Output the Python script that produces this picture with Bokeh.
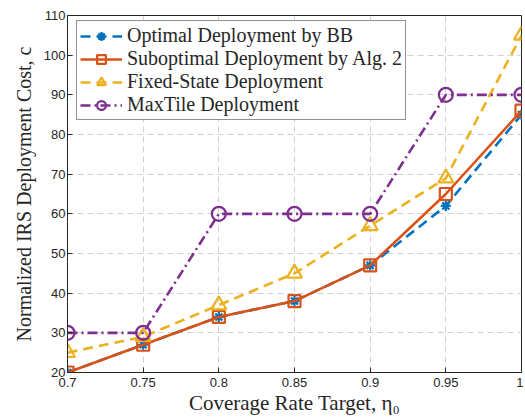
from bokeh.plotting import figure
from bokeh.models import FixedTicker, Range1d, Legend, LegendItem
from bokeh.embed import file_html
from bokeh.resources import INLINE

eta = [0.7, 0.75, 0.8, 0.85, 0.9, 0.95, 1.0]
bb = [20, 27, 34, 38, 47, 62, 85]
alg2 = [20, 27, 34, 38, 47, 65, 86]
fixed = [25, 29, 37, 45, 57, 69, 105]
maxtile = [30, 30, 60, 60, 60, 90, 90]

x_ticks = [0.7, 0.75, 0.8, 0.85, 0.9, 0.95, 1.0]
x_labels = ["0.7", "0.75", "0.8", "0.85", "0.9", "0.95", "1"]
y_ticks = [20, 30, 40, 50, 60, 70, 80, 90, 100, 110]

names = ["Optimal Deployment by BB", "Suboptimal Deployment by Alg. 2",
         "Fixed-State Deployment", "MaxTile Deployment"]
colors = ["#0072BD", "#D95319", "#EDB120", "#7E2F8E"]

p = figure(width=523, height=418, output_backend="svg", toolbar_location=None,
           x_range=Range1d(0.7, 1.0), y_range=Range1d(20, 110),
           min_border_left=67, min_border_right=2, min_border_top=15, min_border_bottom=46)
p.outline_line_color = "#262626"
p.outline_line_width = 1
p.background_fill_color = "white"

for ax in (p.xaxis, p.yaxis):
    ax.major_tick_in = 5
    ax.major_tick_out = 0
    ax.minor_tick_line_color = None
    ax.axis_line_color = "#262626"
    ax.major_tick_line_color = "#262626"
    ax.major_label_text_font = "Liberation Sans"
    ax.major_label_text_font_size = "13px"
    ax.major_label_text_color = "#262626"
    ax.axis_label_text_font = "Liberation Serif"
    ax.axis_label_text_font_style = "normal"
    ax.axis_label_text_color = "#262626"

p.xaxis.axis_label_text_font_size = "21px"
p.yaxis.axis_label_text_font_size = "20px"
p.xaxis.ticker = FixedTicker(ticks=x_ticks)
p.xaxis.major_label_overrides = {t: l for t, l in zip(x_ticks, x_labels)}
p.yaxis.ticker = FixedTicker(ticks=y_ticks)
p.xaxis.axis_label = "Coverage Rate Target, η₀"
p.yaxis.axis_label = "Normalized IRS Deployment Cost, c"
p.xaxis.axis_label_standoff = 1
p.yaxis.axis_label_standoff = 6
p.xaxis.major_label_standoff = 5
p.yaxis.major_label_standoff = 2

p.xgrid.grid_line_dash = "6 4"
p.ygrid.grid_line_dash = "6 4"
p.xgrid.grid_line_color = "#d0d0d0"
p.ygrid.grid_line_color = "#d0d0d0"
p.xgrid.grid_line_width = 1
p.ygrid.grid_line_width = 1

series = [bb, alg2, fixed, maxtile]
dashes = ["10 6", "solid", "10 6", "10 4 2 4"]
markers = ["asterisk", "square", "triangle", "circle"]
sizes = [10, 12, 15, 14]
items = []
for ys, name, c, dd, m, s in zip(series, names, colors, dashes, markers, sizes):
    r1 = p.line(eta, ys, line_color=c, line_width=2.6, line_dash=dd)
    r2 = p.scatter(eta, ys, marker=m, size=s, line_color=c, line_width=2.2,
                   fill_color=None)
    items.append(LegendItem(label=name, renderers=[r1, r2]))

legend = Legend(items=items, location=(9, 252))
legend.label_text_font = "Liberation Serif"
legend.label_text_font_size = "20px"
legend.label_text_line_height = 1.0
legend.label_text_color = "#262626"
legend.border_line_color = "#262626"
legend.border_line_width = 1
legend.glyph_width = 42
legend.glyph_height = 22
legend.label_height = 22
legend.spacing = 0
legend.padding = 3
legend.margin = 0
legend.label_standoff = 5
p.add_layout(legend)

open("out.html", "w").write(file_html(p, INLINE))
